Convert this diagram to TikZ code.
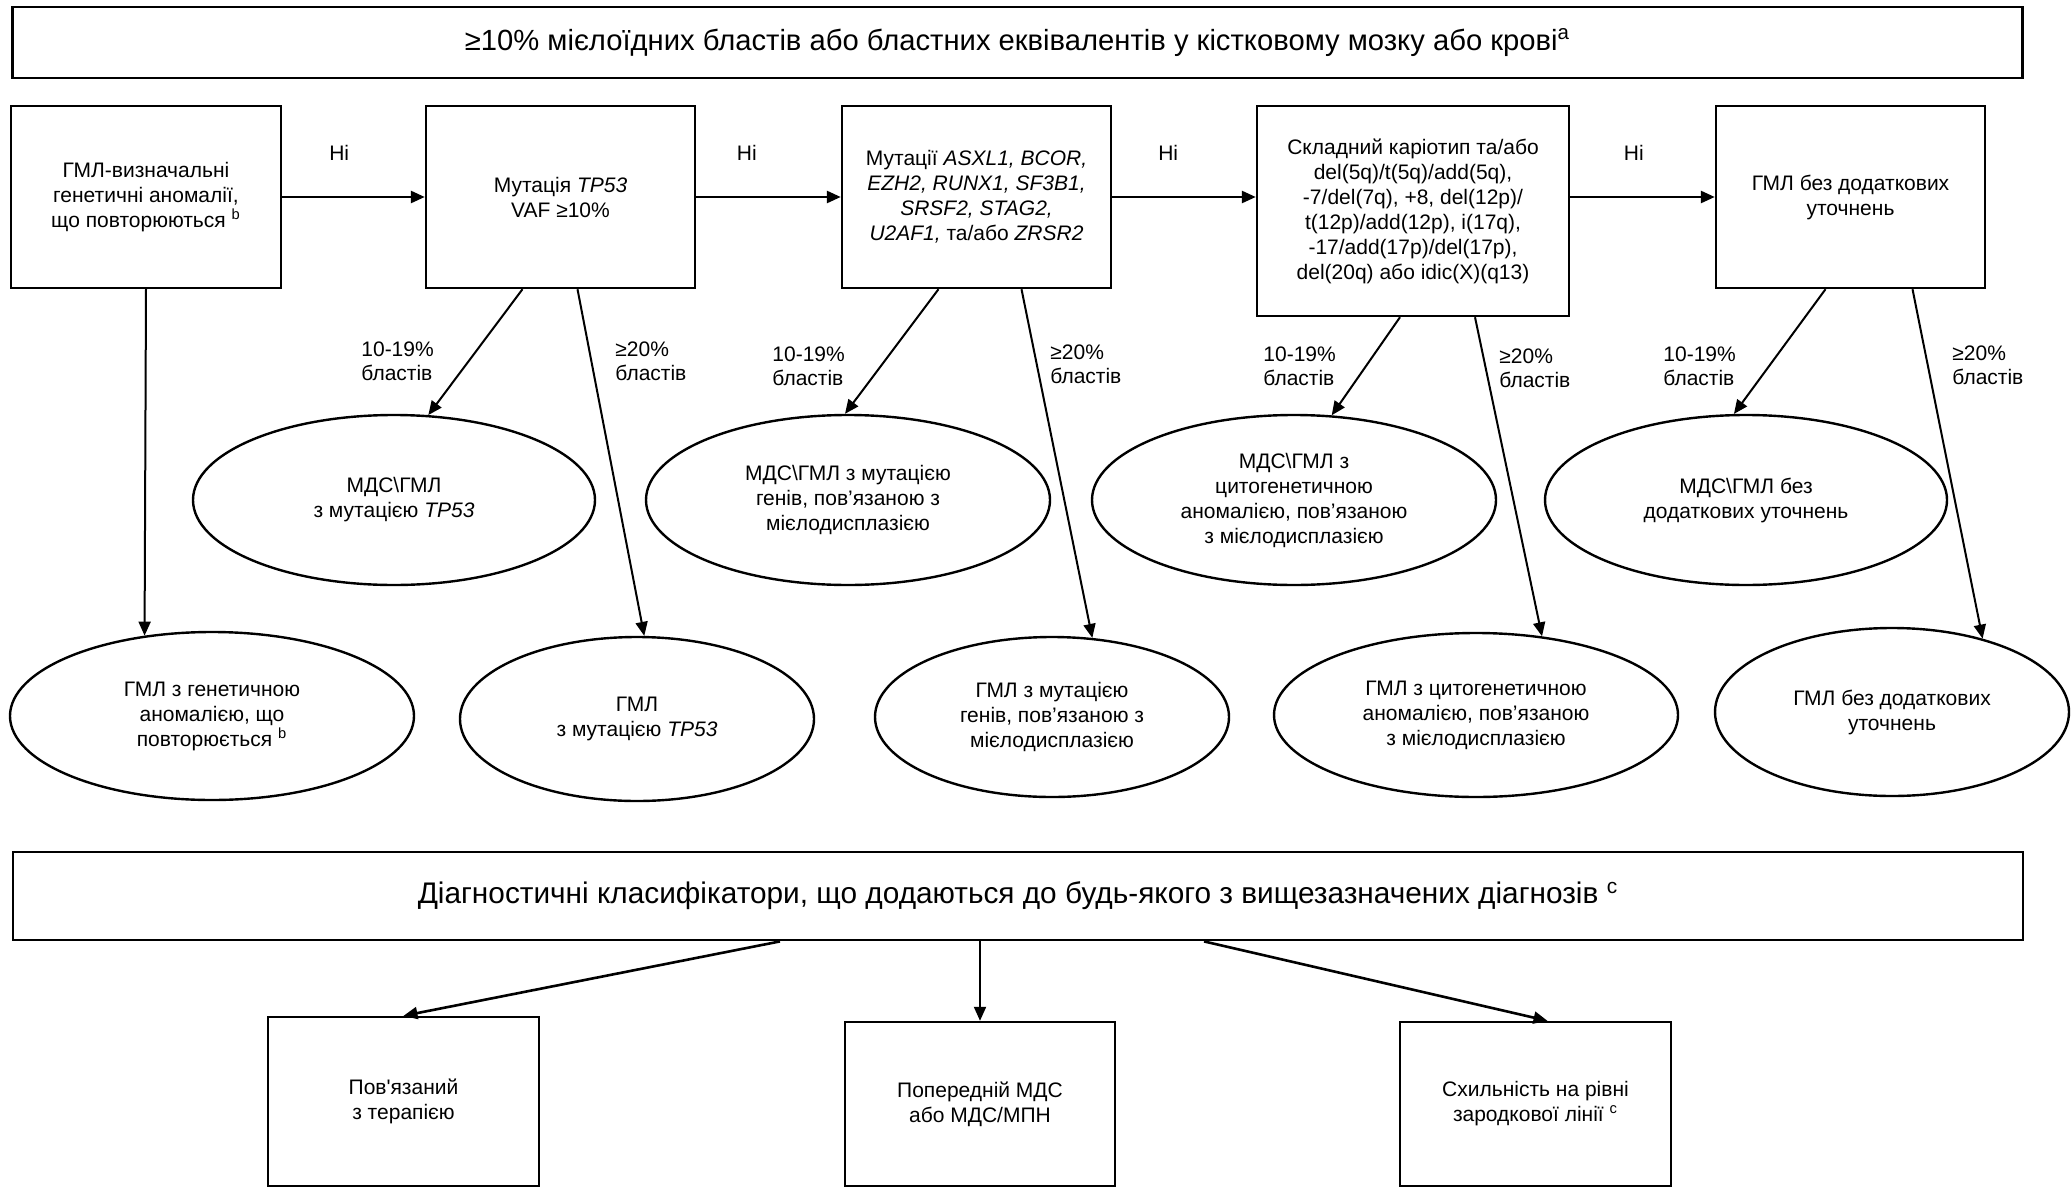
\documentclass[tikz,border=0pt]{standalone}
\usepackage{fontspec}
\setmainfont{Liberation Sans}
\usetikzlibrary{calc,arrows.meta,shapes.geometric}

\tikzset{
  box/.style={draw, line width=1.2pt, align=center, inner sep=2pt, font=\fontsize{10.5}{12.5}\selectfont},
  oval/.style={draw, ellipse, line width=1.2pt, align=center, inner sep=1pt, font=\fontsize{10.5}{12.5}\selectfont},
  banner/.style={draw, line width=1.4pt, minimum width=1005pt, align=center, font=\fontsize{14.6}{17}\selectfont},
  blast/.style={anchor=west, align=left, inner sep=0pt, font=\fontsize{10.5}{12}\selectfont},
  arr/.style={-{Triangle[length=7pt,width=6pt]}, line width=1.3pt},
  darr/.style={-{Triangle[length=7pt,width=6pt]}, line width=1pt},
}

\begin{document}
\begin{tikzpicture}[x=0.5pt, y=-0.5pt]
	\useasboundingbox (0,0) rectangle (2071,1188);
	% header
	\node[banner, minimum height=35.5pt] (top) at (1017.5,42.5) {≥10\% мієлоїдних бластів або бластних еквівалентів у кістковому мозку або крові\textsuperscript{a}};
	% decision boxes
	\node[box, minimum width=135pt, minimum height=91pt] (b1) at (146,197) {ГМЛ-визначальні\\генетичні аномалії,\\що повторюються \textsuperscript{b}};
	\node[box, minimum width=134.5pt, minimum height=91pt] (b2) at (560.5,197) {Мутація \textit{TP53}\\VAF ≥10\%};
	\node[box, minimum width=134.5pt, minimum height=91pt] (b3) at (976.5,197) {Мутації \textit{ASXL1, BCOR,}\\\textit{EZH2, RUNX1, SF3B1,}\\\textit{SRSF2, STAG2,}\\\textit{U2AF1,} та/або \textit{ZRSR2}};
	\node[box, minimum width=156pt, minimum height=105pt] (b4) at (1413,211) {Складний каріотип та/або\\del(5q)/t(5q)/add(5q),\\-7/del(7q), +8, del(12p)/\\t(12p)/add(12p), i(17q),\\-17/add(17p)/del(17p),\\del(20q) або idic(X)(q13)};
	\node[box, minimum width=134.5pt, minimum height=91pt] (b5) at (1850.5,197) {ГМЛ без додаткових\\уточнень};
	% MDS/AML row
	\node[oval, minimum width=201pt, minimum height=85pt] (e1) at (394,500) {МДС\textbackslash ГМЛ\\з мутацією \textit{TP53}};
	\node[oval, minimum width=202pt, minimum height=85pt] (e2) at (848,500) {МДС\textbackslash ГМЛ з мутацією\\генів, пов’язаною з\\мієлодисплазією};
	\node[oval, minimum width=202pt, minimum height=85pt] (e3) at (1294,500) {МДС\textbackslash ГМЛ з\\цитогенетичною\\аномалією, пов’язаною\\з мієлодисплазією};
	\node[oval, minimum width=201pt, minimum height=85pt] (e4) at (1746,500) {МДС\textbackslash ГМЛ без\\додаткових уточнень};
	% AML row
	\node[oval, minimum width=202pt, minimum height=84pt] (e5) at (212,716) {ГМЛ з генетичною\\аномалією, що\\повторюється \textsuperscript{b}};
	\node[oval, minimum width=177pt, minimum height=82pt] (e6) at (637,719) {ГМЛ\\з мутацією \textit{TP53}};
	\node[oval, minimum width=177pt, minimum height=80pt] (e7) at (1052,717) {ГМЛ з мутацією\\генів, пов’язаною з\\мієлодисплазією};
	\node[oval, minimum width=202pt, minimum height=82pt] (e8) at (1476,715) {ГМЛ з цитогенетичною\\аномалією, пов’язаною\\з мієлодисплазією};
	\node[oval, minimum width=177pt, minimum height=84pt] (e9) at (1892,712) {ГМЛ без додаткових\\уточнень};
	% blast labels
	\node[blast] (l2a) at (361,361) {10-19\%\\бластів};
	\node[blast] (l2b) at (615,361) {≥20\%\\бластів};
	\node[blast] (l3a) at (772,366) {10-19\%\\бластів};
	\node[blast] (l3b) at (1050,364) {≥20\%\\бластів};
	\node[blast] (l4a) at (1263,366) {10-19\%\\бластів};
	\node[blast] (l4b) at (1499,368) {≥20\%\\бластів};
	\node[blast] (l5a) at (1663,366) {10-19\%\\бластів};
	\node[blast] (l5b) at (1952,365) {≥20\%\\бластів};
	% qualifiers
	\node[banner, minimum height=44pt, font=\fontsize{14.9}{17}\selectfont] (diag) at (1018,896) {Діагностичні класифікатори, що додаються до будь-якого з вищезазначених діагнозів \textsuperscript{c}};
	\node[box, minimum width=135.5pt, minimum height=84.5pt] (d1) at (403.5,1101.5) {Пов\XeTeXglyph\XeTeXglyphindex"quotesingle"\relax язаний\\з терапією};
	\node[box, minimum width=135pt, minimum height=82pt] (d2) at (980,1104) {Попередній МДС\\або МДС/МПН};
	\node[box, minimum width=135.5pt, minimum height=82pt] (d3) at (1535.5,1104) {Схильність на рівні\\зародкової лінії \textsuperscript{c}};
	% "no" chain
	\draw[arr] (b1.east) -- node[pos=0.4, yshift=22pt, font=\fontsize{10.5}{12}\selectfont] (n1) {Ні} (b2.west);
	\draw[arr] (b2.east) -- node[pos=0.35, yshift=22pt, font=\fontsize{10.5}{12}\selectfont] (n2) {Ні} (b3.west);
	\draw[arr] (b3.east) -- node[pos=0.39, yshift=22pt, font=\fontsize{10.5}{12}\selectfont] (n3) {Ні} (b3.east -| b4.west);
	\draw[arr] (b4.east |- b5.west) -- node[pos=0.44, yshift=22pt, font=\fontsize{10.5}{12}\selectfont] (n4) {Ні} (b5.west);
	% branches
	\draw[darr] (b1.south) -- (e5.130);
	\draw[darr] ($(b2.south)+(-38,0)$) -- (e1.68);
	\draw[darr] ($(b2.south)+(17,0)$) -- (e6.85);
	\draw[darr] ($(b3.south)+(-38,0)$) -- (e2.92);
	\draw[darr] ($(b3.south)+(45,0)$) -- (e7.63);
	\draw[darr] ($(b4.south)+(-13,0)$) -- (e3.66);
	\draw[darr] ($(b4.south)+(62,0)$) -- (e8.50);
	\draw[darr] ($(b5.south)+(-25,0)$) -- (e4.98);
	\draw[darr] ($(b5.south)+(62,0)$) -- (e9.39);
	\draw[arr] ($(diag.south)+(-238,0)$) -- (d1.north);
	\draw[darr] (diag.south -| d2.north) -- (d2.north);
	\draw[arr] ($(diag.south)+(186,0)$) -- ($(d3.north)+(12,0)$);
\end{tikzpicture}
\end{document}
